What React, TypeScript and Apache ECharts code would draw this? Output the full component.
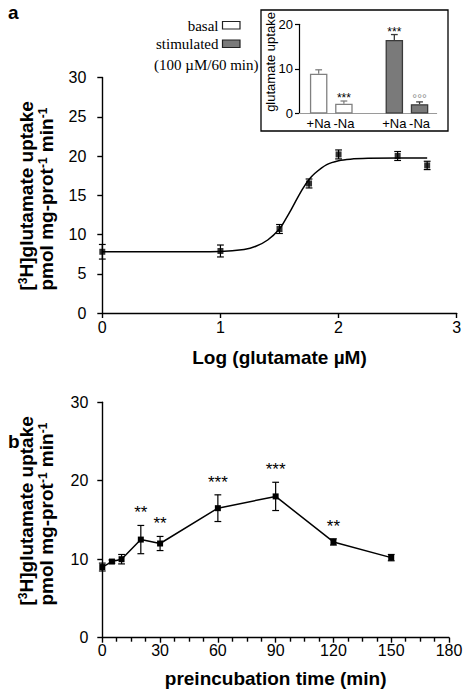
import React, { useEffect, useRef } from 'react';
import * as echarts from 'echarts';

// ---------- data ----------
const logConc = [0, 1, 1.5, 1.75, 2, 2.5, 2.75];
const uptakeA = [7.8, 7.9, 10.7, 16.5, 20.2, 20.0, 18.8];
const errA = [0.93, 0.76, 0.57, 0.57, 0.57, 0.57, 0.53];

// fitted curve
const fitX = [0, 0.5, 1, 1.2, 1.3, 1.4, 1.5, 1.55, 1.6, 1.65, 1.7, 1.75, 1.8, 1.9, 2, 2.1, 2.25, 2.5, 2.75];
const fitY = [7.8, 7.8, 7.85, 8.1, 8.5, 9.3, 10.7, 11.9, 13.2, 14.6, 15.9, 17.0, 17.8, 18.9, 19.4, 19.6, 19.7, 19.75, 19.75];

const timeMin = [0, 5, 10, 20, 30, 60, 90, 120, 150];
const uptakeB = [9.0, 9.7, 10.0, 12.5, 12.0, 16.5, 18.0, 12.2, 10.2];
const errB = [0.5, 0.2, 0.6, 1.8, 0.9, 1.7, 1.8, 0.4, 0.4];
const sigB = ['', '', '', '**', '**', '***', '***', '**', ''];

const insetCategories = ['+Na', '-Na', '', '+Na', '-Na'];
const basalValues = [8.9, 2.2];
const basalErr = [0.9, 0.6];
const basalSig = ['', '***'];
const stimValues = [16.5, 2.1];
const stimErr = [1.2, 0.5];
const stimSig = ['***', '°°°'];

const legendLabels = ['basal', 'stimulated'];
const legendNote = '(100 µM/60 min)';

// ---------- styles ----------
const SANS = "'Liberation Sans', Arial, Helvetica, sans-serif";
const SERIF = "'Liberation Serif', 'Times New Roman', serif";
const BLACK = '#000';
const BASAL_EDGE = '#808080';
const STIM_FILL = '#7a7a7a';
const STIM_EDGE = '#3a3a3a';
const SIG_GREY = '#8a8a8a';

function errorBars(capHalf: number, color: string, lineWidth: number, upOnly: boolean, sig: string[], sigFont: string, sigColor: (s: string) => string, sigGap: number) {
  return (params: any, api: any) => {
    const x = api.value(0);
    const y = api.value(1);
    const e = api.value(2);
    const top = api.coord([x, y + e]);
    const bot = api.coord([x, upOnly ? y : y - e]);
    const st = { stroke: color, lineWidth };
    const children: any[] = [
      { type: 'line', shape: { x1: top[0], y1: top[1], x2: bot[0], y2: bot[1] }, style: st },
      { type: 'line', shape: { x1: top[0] - capHalf, y1: top[1], x2: top[0] + capHalf, y2: top[1] }, style: st },
    ];
    if (!upOnly) {
      children.push({ type: 'line', shape: { x1: bot[0] - capHalf, y1: bot[1], x2: bot[0] + capHalf, y2: bot[1] }, style: st });
    }
    const s = sig[params.dataIndex];
    if (s) {
      children.push({
        type: 'text',
        x: top[0],
        y: top[1] - sigGap,
        style: { text: s, font: sigFont, fill: sigColor(s), align: 'center', verticalAlign: 'bottom' },
      });
    }
    return { type: 'group', children };
  };
}

const sigColorOf = (s: string) => (s.indexOf('°') >= 0 ? SIG_GREY : BLACK);

const axisLine = { show: true, onZero: false, lineStyle: { color: BLACK, width: 1.4 } };
const axisTick = { show: true, inside: false, length: 5, lineStyle: { color: BLACK, width: 1.4 } };
const tickLabel = { color: BLACK, fontFamily: SANS, fontSize: 16 };

const yNameRich = {
  t: { fontFamily: SANS, fontSize: 19, fontWeight: 'bold', lineHeight: 20, color: BLACK },
  s: { fontFamily: SANS, fontSize: 12, fontWeight: 'bold', lineHeight: 12, verticalAlign: 'top', color: BLACK },
};
const yNameText = '{t|[}{s|3}{t|H]glutamate uptake}\n{t|pmol mg-prot}{s|-1}{t| min}{s|-1}';

export default function App() {
  const ref = useRef<HTMLDivElement>(null);

  useEffect(() => {
    if (!ref.current) return;
    const chart = echarts.init(ref.current, undefined, { renderer: 'svg' });
    const stimStart = insetCategories.indexOf('') + 1;

    const option: any = {
      animation: false,
      backgroundColor: '#fff',
      grid: [
        { left: 102.3, top: 77.5, width: 354.4, height: 235.5, outerBoundsMode: 'none', containLabel: false },
        { left: 102.3, top: 402.2, width: 346.7, height: 235.5, outerBoundsMode: 'none', containLabel: false },
        { left: 299, top: 24.3, width: 137.7, height: 89.2, outerBoundsMode: 'none', containLabel: false },
      ],
      xAxis: [
        {
          gridIndex: 0, type: 'value', min: 0, max: 3, interval: 1,
          axisLine, axisTick, splitLine: { show: false },
          axisLabel: { ...tickLabel, margin: 6 },
          name: 'Log (glutamate µM)', nameLocation: 'middle', nameGap: 35, nameMoveOverlap: false,
          nameTextStyle: { fontFamily: SANS, fontSize: 19, fontWeight: 'bold', color: BLACK },
        },
        {
          gridIndex: 1, type: 'value', min: 0, max: 180, interval: 30,
          axisLine, axisTick,
          minorTick: { show: true, splitNumber: 4, length: 4, lineStyle: { color: BLACK, width: 1.4 } },
          splitLine: { show: false }, minorSplitLine: { show: false },
          axisLabel: { ...tickLabel, margin: 5 },
          name: 'preincubation time (min)', nameLocation: 'middle', nameGap: 31, nameMoveOverlap: false,
          nameTextStyle: { fontFamily: SANS, fontSize: 19, fontWeight: 'bold', color: BLACK },
        },
        {
          gridIndex: 2, type: 'value', min: -0.78, max: 4.68,
          axisLine: { show: true, onZero: false, lineStyle: { color: '#9a9a9a', width: 1 } },
          axisTick: { show: false }, splitLine: { show: false },
          axisLabel: {
            color: BLACK, fontFamily: SANS, fontSize: 13, margin: 3,
            customValues: [0, 1, 3, 4],
            formatter: (v: number) => insetCategories[Math.round(v)] ?? '',
          },
        },
      ],
      yAxis: [
        {
          gridIndex: 0, type: 'value', min: 0, max: 30, interval: 5,
          axisLine, axisTick, splitLine: { show: false },
          axisLabel: { ...tickLabel, margin: 16 },
        },
        {
          gridIndex: 1, type: 'value', min: 0, max: 30, interval: 10,
          axisLine, axisTick, splitLine: { show: false },
          axisLabel: { ...tickLabel, margin: 14 },
        },
        {
          gridIndex: 2, type: 'value', min: 0, max: 20, interval: 10,
          axisLine: { show: true, onZero: false, lineStyle: { color: BLACK, width: 1.2 } },
          axisTick: { show: true, length: 4, lineStyle: { color: BLACK, width: 1.2 } },
          splitLine: { show: false },
          axisLabel: { color: BLACK, fontFamily: SANS, fontSize: 13, margin: 6 },
        },
      ],
      series: [
        // panel a: fitted curve
        {
          type: 'line', xAxisIndex: 0, yAxisIndex: 0, smooth: 0.3, symbol: 'none',
          data: fitX.map((x, i) => [x, fitY[i]]),
          lineStyle: { color: BLACK, width: 1.5 }, silent: true, z: 2,
        },
        {
          type: 'custom', xAxisIndex: 0, yAxisIndex: 0, clip: false, z: 3,
          renderItem: errorBars(3.4, BLACK, 1.2, false, [], '', sigColorOf, 0),
          data: logConc.map((x, i) => [x, uptakeA[i], errA[i]]),
        },
        {
          type: 'scatter', xAxisIndex: 0, yAxisIndex: 0, symbol: 'rect', symbolSize: 6,
          itemStyle: { color: BLACK }, clip: false, z: 4,
          data: logConc.map((x, i) => [x, uptakeA[i]]),
        },
        // panel b
        {
          type: 'custom', xAxisIndex: 1, yAxisIndex: 1, clip: false, z: 3,
          renderItem: errorBars(3.4, BLACK, 1.2, false, sigB, `17px ${SANS}`, sigColorOf, 4),
          data: timeMin.map((x, i) => [x, uptakeB[i], errB[i]]),
        },
        {
          type: 'line', xAxisIndex: 1, yAxisIndex: 1, symbol: 'rect', symbolSize: 6,
          showAllSymbol: true, clip: false, z: 4,
          itemStyle: { color: BLACK }, lineStyle: { color: BLACK, width: 1.5 },
          data: timeMin.map((x, i) => [x, uptakeB[i]]),
        },
        // inset bars
        {
          name: legendLabels[0], type: 'bar', xAxisIndex: 2, yAxisIndex: 2, barWidth: 17.5, barGap: '-100%',
          itemStyle: { color: '#fff', borderColor: BASAL_EDGE, borderWidth: 1.3 },
          data: basalValues.map((v, i) => [i, v]),
        },
        {
          name: legendLabels[1], type: 'bar', xAxisIndex: 2, yAxisIndex: 2, barWidth: 17.5, barGap: '-100%',
          itemStyle: { color: STIM_FILL, borderColor: STIM_EDGE, borderWidth: 1.3 },
          data: stimValues.map((v, i) => [stimStart + i, v]),
        },
        {
          type: 'custom', xAxisIndex: 2, yAxisIndex: 2, clip: false, z: 3,
          renderItem: errorBars(3.4, BASAL_EDGE, 1.3, true, basalSig, `12px ${SANS}`, sigColorOf, -3),
          data: basalValues.map((v, i) => [i, v, basalErr[i]]),
        },
        {
          type: 'custom', xAxisIndex: 2, yAxisIndex: 2, clip: false, z: 3,
          renderItem: errorBars(3.4, STIM_EDGE, 1.3, true, stimSig, `12px ${SANS}`, sigColorOf, -3),
          data: stimValues.map((v, i) => [stimStart + i, v, stimErr[i]]),
        },
      ],
      graphic: [
        { type: 'text', x: 8, y: 12, style: { text: 'a', font: `bold 19px ${SANS}`, fill: BLACK, verticalAlign: 'middle' } },
        { type: 'text', x: 8, y: 441, style: { text: 'b', font: `bold 19px ${SANS}`, fill: BLACK, verticalAlign: 'middle' } },
        {
          type: 'text', x: 36.7, y: 290.5, rotation: Math.PI / 2,
          style: { text: yNameText, rich: yNameRich, align: 'left', verticalAlign: 'middle' },
        },
        {
          type: 'text', x: 36.7, y: 605.5, rotation: Math.PI / 2,
          style: { text: yNameText, rich: yNameRich, align: 'left', verticalAlign: 'middle' },
        },
        // inset frame and its axis title
        { type: 'rect', shape: { x: 261, y: 10, width: 187, height: 121 }, style: { fill: 'none', stroke: BLACK, lineWidth: 1.3 } },
        {
          type: 'text', x: 270, y: 62, rotation: Math.PI / 2,
          style: { text: 'glutamate uptake', font: `13px ${SANS}`, fill: BLACK, align: 'center', verticalAlign: 'middle' },
        },
        // legend
        { type: 'text', x: 218.5, y: 25.5, style: { text: legendLabels[0], font: `15px ${SERIF}`, fill: BLACK, align: 'right', verticalAlign: 'middle' } },
        { type: 'rect', shape: { x: 222.5, y: 21.5, width: 17.5, height: 7.5 }, style: { fill: '#fff', stroke: '#222', lineWidth: 1.2 } },
        { type: 'text', x: 218.5, y: 44, style: { text: legendLabels[1], font: `15px ${SERIF}`, fill: BLACK, align: 'right', verticalAlign: 'middle' } },
        { type: 'rect', shape: { x: 222.5, y: 40, width: 17.5, height: 7.5 }, style: { fill: STIM_FILL, stroke: '#222', lineWidth: 1.2 } },
        { type: 'text', x: 258.5, y: 65, style: { text: legendNote, font: `15px ${SERIF}`, fill: BLACK, align: 'right', verticalAlign: 'middle' } },
      ],
    };

    chart.setOption(option);
    return () => chart.dispose();
  }, []);

  return <div ref={ref} style={{ position: 'absolute', left: 0, top: 0, width: 464, height: 696 }} />;
}
